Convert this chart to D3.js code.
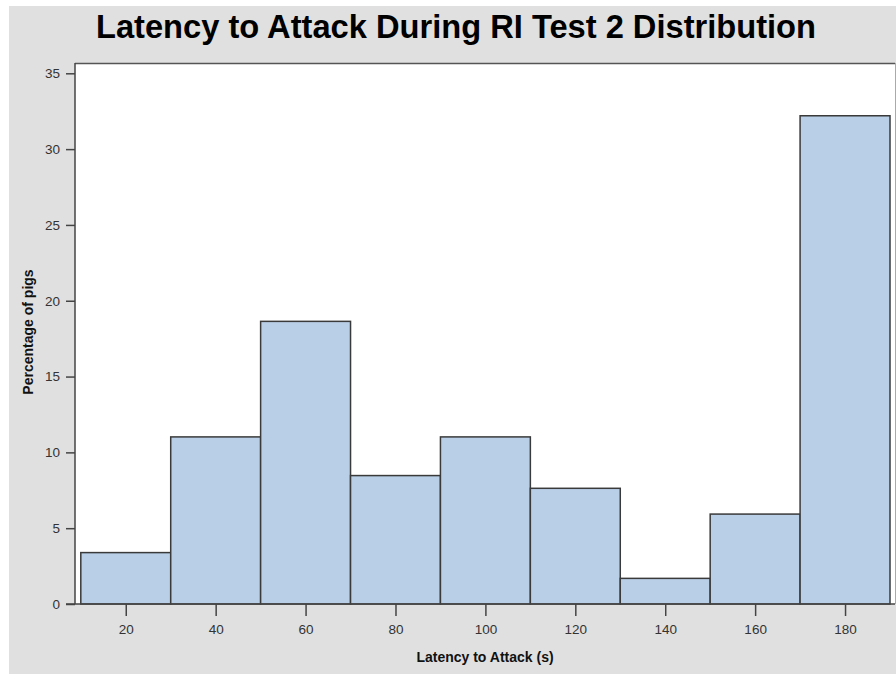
<html>
<head>
<script src="https://d3js.org/d3.v7.min.js"></script>
<style>
  body { margin: 0; background: white; }
  text { font-family: "Liberation Sans", Arial, sans-serif; }
</style>
</head>
<body>
<svg id="chart" width="896" height="674"></svg>
<script>

// histogram bins (midpoints, width 20) and percent of pigs in each
var binMids = [20, 40, 60, 80, 100, 120, 140, 160, 180];
var binWidth = 20;
var percents = [3.39, 11.02, 18.64, 8.47, 11.02, 7.63, 1.69, 5.93, 32.20];

var xTicks = [20, 40, 60, 80, 100, 120, 140, 160, 180];
var yTicks = [0, 5, 10, 15, 20, 25, 30, 35];

var titleText = "Latency to Attack During RI Test 2 Distribution";
var xLabel = "Latency to Attack (s)";
var yLabel = "Percentage of pigs";

var svg = d3.select("#chart");

// grey page background
svg.append("rect")
  .attr("x", 9).attr("y", 6)
  .attr("width", 896 - 9).attr("height", 674 - 6)
  .attr("fill", "#e0e0e0");

// plot frame bounds
var frame = {left: 75, right: 895, top: 63, bottom: 604};

var x = d3.scaleLinear()
  .domain([10, 190])
  .range([80.8, 890]);

var y = d3.scaleLinear()
  .domain([0, 35])
  .range([frame.bottom, 73.3]);

// white plot area
svg.append("rect")
  .attr("x", frame.left).attr("y", frame.top)
  .attr("width", frame.right - frame.left)
  .attr("height", frame.bottom - frame.top)
  .attr("fill", "white");

// top and right border of frame
svg.append("line")
  .attr("x1", frame.left).attr("x2", frame.right)
  .attr("y1", frame.top + 0.5).attr("y2", frame.top + 0.5)
  .style("stroke", "#555").style("stroke-width", 1.5);
svg.append("line")
  .attr("x1", frame.right + 0.5).attr("x2", frame.right + 0.5)
  .attr("y1", frame.top).attr("y2", frame.bottom)
  .style("stroke", "#aaa").style("stroke-width", 1);

// bars
svg.append("g").selectAll("rect")
  .data(binMids)
  .enter().append("rect")
  .attr("x", function(d) { return x(d - binWidth / 2); })
  .attr("width", function(d) { return x(d + binWidth / 2) - x(d - binWidth / 2); })
  .attr("y", function(d, i) { return y(percents[i]); })
  .attr("height", function(d, i) { return y(0) - y(percents[i]); })
  .attr("fill", "#b9cfe8")
  .style("stroke", "#3a3a3a")
  .style("stroke-width", 1.5);

// y axis
var yAxis = svg.append("g")
  .attr("transform", "translate(" + frame.left + ",0)")
  .call(d3.axisLeft(y).tickValues(yTicks).tickSize(9).tickPadding(6).tickSizeOuter(0));
yAxis.select(".domain").remove();
yAxis.append("line")
  .attr("x1", 0).attr("x2", 0)
  .attr("y1", frame.top).attr("y2", frame.bottom)
  .style("stroke", "#444").style("stroke-width", 1.5);

// x axis
var xAxis = svg.append("g")
  .attr("transform", "translate(0," + frame.bottom + ")")
  .call(d3.axisBottom(x).tickValues(xTicks).tickSize(12).tickPadding(8).tickSizeOuter(0));
xAxis.select(".domain").remove();
xAxis.append("line")
  .attr("x1", 66).attr("x2", frame.right)
  .attr("y1", 0).attr("y2", 0)
  .style("stroke", "#444").style("stroke-width", 1.5);

svg.selectAll(".tick line").style("stroke", "#444").style("stroke-width", 1.5);
svg.selectAll(".tick text")
  .style("font-family", "'Liberation Sans', Arial, sans-serif")
  .style("font-size", "13.5px")
  .attr("fill", "#333");

// titles
svg.append("text")
  .attr("x", 456).attr("y", 38)
  .attr("text-anchor", "middle")
  .attr("textLength", 720)
  .attr("lengthAdjust", "spacingAndGlyphs")
  .style("font-size", "33px").style("font-weight", "bold")
  .attr("fill", "#000")
  .text(titleText);

svg.append("text")
  .attr("x", 485).attr("y", 662)
  .attr("text-anchor", "middle")
  .style("font-size", "14px").style("font-weight", "bold")
  .attr("fill", "#111")
  .text(xLabel);

svg.append("text")
  .attr("transform", "translate(33,332) rotate(-90)")
  .attr("text-anchor", "middle")
  .style("font-size", "14px").style("font-weight", "bold")
  .attr("fill", "#111")
  .text(yLabel);

</script>
</body>
</html>
